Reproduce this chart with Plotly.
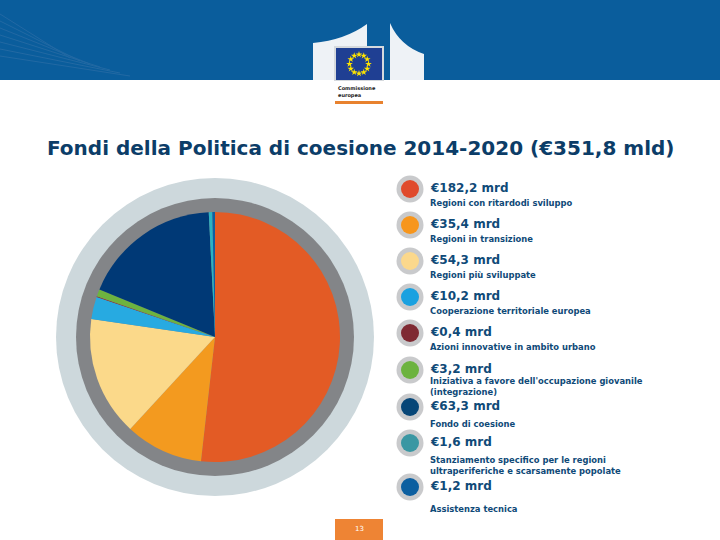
import math
import plotly.graph_objects as go

# --- data -------------------------------------------------------------
amounts = [182.2, 35.4, 54.3, 10.2, 0.4, 3.2, 63.3, 1.6, 1.2]
amount_labels = ["€182,2 mrd", "€35,4 mrd", "€54,3 mrd", "€10,2 mrd", "€0,4 mrd",
                 "€3,2 mrd", "€63,3 mrd", "€1,6 mrd", "€1,2 mrd"]
descriptions = [
    "Regioni con ritardodi sviluppo",
    "Regioni in transizione",
    "Regioni più sviluppate",
    "Cooperazione territoriale europea",
    "Azioni innovative in ambito urbano",
    "Iniziativa a favore dell'occupazione giovanile\n(integrazione)",
    "Fondo di coesione",
    "Stanziamento specifico per le regioni\nultraperiferiche e scarsamente popolate",
    "Assistenza tecnica",
]
pie_colors = ["#e35b25", "#f39a1f", "#fbd98a", "#27aae1", "#8b2b33",
              "#6db33f", "#003976", "#2bb3c2", "#0d5fa3"]
dot_colors = ["#e04a2c", "#f7961d", "#fbd88c", "#1aa1e0", "#7f2a33",
              "#6cb33f", "#074677", "#3a97a3", "#0c5fa0"]
title = "Fondi della Politica di coesione 2014-2020 (€351,8 mld)"
page_no = "13"

# --- layout helpers (pixel positions on the 720x540 slide) -------------
W, H = 720, 540
cx, cy, r_pie = 215, 337, 125
legend_x = 410
legend_rows_y = [189, 225, 261, 297, 333, 370, 407, 443, 487]
sub_offsets = [14, 14, 14, 14, 14, 11, 17, 17, 22]
sub_line_gap = 10.8
text_blue = "#0f4a78"

fig = go.Figure()

# pie itself
fig.add_trace(go.Pie(
    values=amounts,
    labels=amount_labels,
    marker=dict(colors=pie_colors, line=dict(width=0)),
    sort=False,
    direction="clockwise",
    rotation=0,
    textinfo="none",
    hoverinfo="label+percent",
    showlegend=False,
    domain=dict(x=[(cx - r_pie) / W, (cx + r_pie) / W],
                y=[(H - cy - r_pie) / H, (H - cy + r_pie) / H]),
))

# legend dots
fig.add_trace(go.Scatter(
    x=[legend_x] * len(amounts), y=legend_rows_y, mode="markers",
    marker=dict(size=27, color="#c9cacc", line=dict(width=0)),
    hoverinfo="skip", showlegend=False))
fig.add_trace(go.Scatter(
    x=[legend_x] * len(amounts), y=legend_rows_y, mode="markers",
    marker=dict(size=18, color=dot_colors, line=dict(width=0)),
    text=descriptions, hoverinfo="text", showlegend=False))

shapes = []
# header band
shapes.append(dict(type="rect", x0=0, x1=W, y0=0, y1=80, fillcolor="#0a5d9c",
                   line=dict(width=0), layer="below"))
for i in range(7):
    shapes.append(dict(type="line", x0=0, x1=70 + i * 10, y0=14 + i * 7, y1=58 + i * 3,
                       line=dict(color="#2269a3", width=1), layer="below"))
# building silhouettes
shapes.append(dict(type="path", path="M 313 80 L 313 43 Q 345 40 367 24 L 367 80 Z",
                   fillcolor="#eef2f6", line=dict(width=0), layer="below"))
shapes.append(dict(type="path", path="M 390 80 L 390 23 Q 400 46 424 54 L 424 80 Z",
                   fillcolor="#eef2f6", line=dict(width=0), layer="below"))
# EU flag
shapes.append(dict(type="rect", x0=334, x1=384, y0=46, y1=81, fillcolor="#d5d9dd",
                   line=dict(width=0), layer="below"))
shapes.append(dict(type="rect", x0=336, x1=382, y0=48, y1=80, fillcolor="#1f3f93",
                   line=dict(width=0), layer="below"))
shapes.append(dict(type="rect", x0=335, x1=383, y0=101, y1=104, fillcolor="#e8822f",
                   line=dict(width=0), layer="below"))
# rings around the pie
shapes.append(dict(type="circle", x0=cx - 159, x1=cx + 159, y0=cy - 159, y1=cy + 159,
                   fillcolor="#cdd8dc", line=dict(width=0), layer="below"))
shapes.append(dict(type="circle", x0=cx - 139, x1=cx + 139, y0=cy - 139, y1=cy + 139,
                   fillcolor="#838588", line=dict(width=0), layer="below"))
# page number box
shapes.append(dict(type="rect", x0=335, x1=383, y0=519, y1=540, fillcolor="#ee8434",
                   line=dict(width=0), layer="below"))

# flag stars
star_x = [359 + 9.5 * math.cos(2 * math.pi * k / 12) for k in range(12)]
star_y = [64 + 9.5 * math.sin(2 * math.pi * k / 12) for k in range(12)]
fig.add_trace(go.Scatter(x=star_x, y=star_y, mode="markers",
                         marker=dict(symbol="star", size=5, color="#ffe500"),
                         hoverinfo="skip", showlegend=False))

annotations = [
    dict(x=W / 2, y=148, text="<b>" + title + "</b>", showarrow=False,
         font=dict(family="DejaVu Sans", size=20, color="#0c3d68")),
    dict(x=336, y=83, text="<b>Commissione<br>europea</b>", showarrow=False,
         xanchor="left", yanchor="top", align="left",
         font=dict(family="DejaVu Sans", size=5, color="#222222")),
    dict(x=359, y=529, text=page_no, showarrow=False,
         font=dict(family="DejaVu Sans", size=7, color="white")),
]
for amt, desc, y0, off in zip(amount_labels, descriptions, legend_rows_y, sub_offsets):
    annotations.append(dict(x=429, y=y0 - 1, text="<b>" + amt + "</b>", showarrow=False,
                            xanchor="left", yanchor="middle", borderpad=0,
                            font=dict(family="DejaVu Sans", size=12, color=text_blue)))
    for j, line in enumerate(desc.split("\n")):
        annotations.append(dict(x=429, y=y0 + off + sub_line_gap * j,
                                text="<b>" + line + "</b>", borderpad=0,
                                showarrow=False, xanchor="left", yanchor="middle",
                                font=dict(family="DejaVu Sans", size=8.4, color=text_blue)))

fig.update_layout(
    width=W, height=H,
    margin=dict(l=0, r=0, t=0, b=0),
    paper_bgcolor="white", plot_bgcolor="rgba(0,0,0,0)",
    xaxis=dict(range=[0, W], visible=False, fixedrange=True),
    yaxis=dict(range=[H, 0], visible=False, fixedrange=True),
    shapes=shapes,
    annotations=annotations,
)

# the page body has a default 8px margin; drop it so the slide fills the window
fig.write_html("out.html", config={"displayModeBar": False},
               post_script="document.body.style.margin = '0';")
